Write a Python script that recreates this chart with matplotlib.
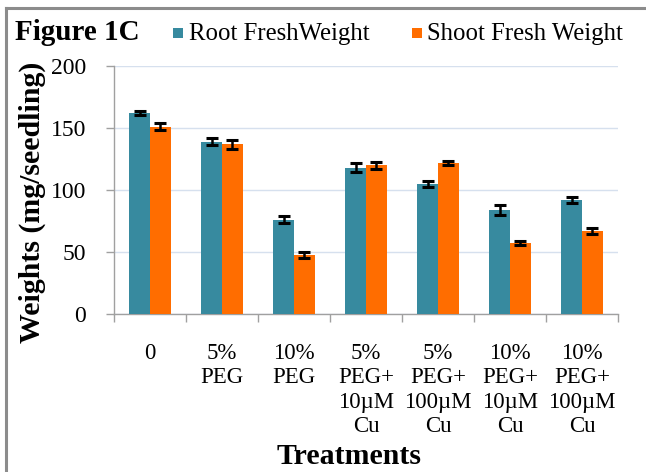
import matplotlib
matplotlib.use("Agg")
import matplotlib.pyplot as plt
import numpy as np
from matplotlib.patches import Rectangle
from matplotlib.lines import Line2D

categories = ["0", "5%\nPEG", "10%\nPEG", "5%\nPEG+\n10\u00b5M\nCu", "5%\nPEG+\n100\u00b5M\nCu",
              "10%\nPEG+\n10\u00b5M\nCu", "10%\nPEG+\n100\u00b5M\nCu"]
root = [162, 139, 76, 118, 105, 84, 92]
root_err = [1.8, 3.0, 2.8, 3.7, 2.3, 3.8, 2.6]
shoot = [151, 137, 47.5, 120, 121.5, 57.3, 67.2]
shoot_err = [3.0, 3.6, 2.3, 2.7, 1.5, 1.9, 2.4]
series_names = ["Root FreshWeight", "Shoot Fresh Weight"]
colors = ["#378A9F", "#FF6D00"]
yticks = [0, 50, 100, 150, 200]

plt.rcParams['font.family'] = ['Liberation Serif', 'DejaVu Serif']

W, H = 646, 472
fig = plt.figure(figsize=(W / 100, H / 100), dpi=100)
ax = fig.add_axes([114 / W, 1 - 314 / H, (618 - 114) / W, (314 - 66) / H])

x = np.arange(len(categories))
bw = 0.287
ekw = dict(ecolor='black', elinewidth=1.8, capsize=4, capthick=2.2)
ax.bar(x - bw / 2, root, bw, color=colors[0], yerr=root_err, error_kw=ekw, zorder=3)
ax.bar(x + bw / 2, shoot, bw, color=colors[1], yerr=shoot_err, error_kw=ekw, zorder=3)

ax.set_xlim(-0.5, len(categories) - 0.5)
ax.set_ylim(0, 200)
ax.set_yticks(yticks)
ax.set_yticklabels([str(v) for v in yticks], fontsize=17)
ax.yaxis.grid(True, color='#D6E0EE', linewidth=1, zorder=0)
ax.set_axisbelow(True)

ax.set_xticks(x)
ax.set_xticklabels(categories, fontsize=16.5, linespacing=1.2, va='top')
ax.tick_params(axis='x', which='major', length=0, pad=21)
ax.set_xticks(np.arange(-0.5, len(categories)), minor=True)
ax.tick_params(axis='x', which='minor', length=6, width=1, color='#A0A0A0', direction='out')
ax.tick_params(axis='y', length=6, width=1, color='#A0A0A0', direction='out', pad=14)

for s in ['top', 'right']:
    ax.spines[s].set_visible(False)
for s in ['left', 'bottom']:
    ax.spines[s].set_color('#A0A0A0')
    ax.spines[s].set_linewidth(1)

fig.text(32 / W, 1 - 202 / H, "Weights (mg/seedling)", rotation=90, fontsize=21.5,
         fontweight='bold', ha='center', va='center')
fig.text(349 / W, 1 - 457 / H, "Treatments", fontsize=21.5, fontweight='bold',
         ha='center', va='center')
fig.text(15 / W, 1 - 33 / H, "Figure 1C", fontsize=21, fontweight='bold',
         ha='left', va='center')

# legend
for (sx, tx, name, c) in [(173, 189, series_names[0], colors[0]), (412, 427, series_names[1], colors[1])]:
    fig.add_artist(Rectangle((sx / W, 1 - 38 / H), 10 / W, 10 / H, transform=fig.transFigure,
                             facecolor=c, edgecolor='none'))
    fig.text(tx / W, 1 - 34 / H, name, fontsize=17.8, ha='left', va='center')

# figure border (top and left)
fig.add_artist(Line2D([6 / W, 1], [1 - 8 / H, 1 - 8 / H], transform=fig.transFigure,
                      color='#8C8C8C', linewidth=2.2))
fig.add_artist(Line2D([6 / W, 6 / W], [0, 1 - 8 / H], transform=fig.transFigure,
                      color='#8C8C8C', linewidth=2.2))

fig.savefig("out.png", dpi=100)
